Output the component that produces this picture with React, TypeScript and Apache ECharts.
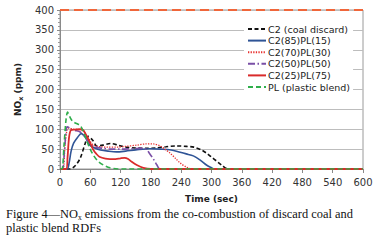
import React, { useEffect, useRef } from "react";
import * as echarts from "echarts";

const xTicks = [0, 60, 120, 180, 240, 300, 360, 420, 480, 540, 600];

const coalT = [0, 15, 20, 30, 40, 50, 56, 65, 73, 85, 100, 115, 130, 150, 170, 190, 210, 230, 250, 265, 280, 290, 300, 310, 320, 333, 600];
const coalV = [0, 0, 0, 8, 27, 65, 82, 72, 58, 60, 64, 60, 55, 53, 52, 53, 56, 58, 57, 55, 48, 40, 30, 20, 10, 0, 0];

const pl15T = [0, 14, 18, 22, 27, 35, 42, 50, 59, 70, 80, 95, 112, 130, 150, 178, 200, 220, 238, 250, 264, 277, 290, 300, 305, 600];
const pl15V = [0, 0, 15, 45, 65, 80, 89, 80, 60, 52, 48, 45, 43, 45, 48, 51, 50, 48, 42, 38, 33, 23, 10, 3, 0, 0];

const pl30T = [0, 6, 10, 14, 18, 27, 40, 46, 55, 66, 80, 95, 112, 130, 152, 170, 185, 198, 210, 218, 230, 238, 250, 262, 600];
const pl30V = [0, 0, 60, 98, 103, 100, 99, 97, 80, 60, 56, 55, 55, 57, 60, 63, 63, 58, 48, 40, 25, 15, 5, 0, 0];

const pl50T = [0, 5, 9, 14, 18, 21, 30, 40, 50, 60, 70, 85, 100, 120, 140, 160, 170, 178, 185, 192, 198, 600];
const pl50V = [0, 0, 50, 106, 104, 100, 97, 93, 80, 62, 55, 52, 50, 50, 51, 52, 50, 38, 25, 10, 0, 0];

const pl75T = [0, 12, 15, 18, 22, 30, 40, 46, 53, 60, 66, 72, 79, 90, 99, 110, 120, 128, 135, 142, 152, 165, 180, 600];
const pl75V = [0, 0, 30, 80, 98, 99, 100, 98, 82, 65, 48, 38, 30, 26, 25, 25, 27, 28, 25, 18, 10, 3, 0, 0];

const plT = [0, 4, 8, 12, 15, 18, 22, 27, 35, 40, 46, 52, 58, 66, 75, 86, 99, 115, 130, 600];
const plV = [0, 0, 60, 125, 143, 135, 125, 118, 113, 110, 95, 75, 55, 35, 20, 10, 3, 0, 0, 0];

const topLineT = [0, 600];
const topLineV = [400, 400];

const names = [
  "C2 (coal discard)",
  "C2(85)PL(15)",
  "C2(70)PL(30)",
  "C2(50)PL(50)",
  "C2(25)PL(75)",
  "PL (plastic blend)",
];

const zip = (t: number[], v: number[]) => t.map((x, i) => [x, v[i]]);

export default function App() {
  const ref = useRef<HTMLDivElement>(null);
  useEffect(() => {
    if (!ref.current) return;
    const chart = echarts.init(ref.current, null, { renderer: "svg" });
    const mk = (name: string, t: number[], v: number[], color: string, width: number, type: any) => ({
      type: "line",
      name,
      symbol: "none",
      smooth: 0.3,
      z: 3,
      data: zip(t, v),
      itemStyle: { color, opacity: 0 },
      lineStyle: { color, width, type },
    });
    chart.setOption({
      animation: false,
      textStyle: { fontFamily: "DejaVu Sans" },
      grid: {
        left: 60,
        right: 18,
        top: 10,
        bottom: 73,
        show: true,
        borderColor: "#9a9a9a",
        borderWidth: 1,
      },
      legend: {
        data: names,
        orient: "vertical",
        left: 244,
        top: 23,
        itemWidth: 18,
        itemHeight: 8,
        itemGap: 1.6,
        padding: [1, 3, 1, 3],
        backgroundColor: "#ffffff",
        itemStyle: { opacity: 0 },
        textStyle: { fontSize: 9.5, color: "#222", fontFamily: "DejaVu Sans", padding: [0, 0, 0, -3] },
      },
      xAxis: {
        type: "value",
        min: 0,
        max: 600,
        interval: 60,
        name: "Time (sec)",
        nameLocation: "middle",
        nameGap: 25,
        nameTextStyle: { fontSize: 9, fontWeight: "bold", color: "#222", fontFamily: "DejaVu Sans" },
        axisLine: { lineStyle: { color: "#8a8a8a" } },
        axisTick: { show: true, length: 4, lineStyle: { color: "#8a8a8a" } },
        axisLabel: {
          fontSize: 10,
          color: "#333",
          margin: 8,
          formatter: (v: number) => (xTicks.includes(v) ? String(v) : ""),
        },
        splitLine: { show: false },
      },
      yAxis: {
        type: "value",
        min: 0,
        max: 400,
        interval: 50,
        name: "{a|NO}{s|x}{a| (ppm)}",
        nameLocation: "middle",
        nameGap: 33,
        nameRotate: 90,
        nameTextStyle: {
          rich: {
            a: { fontSize: 9, fontWeight: "bold", color: "#222", fontFamily: "DejaVu Sans" },
            s: { fontSize: 6.5, fontWeight: "bold", color: "#222", fontFamily: "DejaVu Sans", padding: [5, 0, 0, 0] },
          },
        },
        axisLine: { show: true, lineStyle: { color: "#8a8a8a" } },
        axisTick: { show: true, length: 3, lineStyle: { color: "#8a8a8a" } },
        minorTick: { show: true, splitNumber: 5, length: 2, lineStyle: { color: "#9a9a9a" } },
        axisLabel: { fontSize: 10, color: "#333", margin: 6 },
        splitLine: { lineStyle: { color: "#bdbdbd", width: 1 } },
      },
      graphic: [
        {
          type: "text",
          left: 6,
          top: 208,
          style: {
            text: "{a|Figure 4—NO}{s|x}{a| emissions from the co-combustion of discard coal and}\n{a|plastic blend RDFs}",
            rich: {
              a: { fontSize: 12.4, fontFamily: "Liberation Serif", fill: "#111", lineHeight: 14 },
              s: { fontSize: 7.5, fontFamily: "Liberation Serif", fill: "#111", padding: [6, 0, 0, 0] },
            },
          },
        },
      ],
      series: [
        {
          name: "limit",
          type: "line",
          symbol: "none",
          data: zip(topLineT, topLineV),
          lineStyle: { color: "#f0663a", width: 2.2, type: [9, 5] },
          z: 4,
          silent: true,
        },
        mk(names[0], coalT, coalV, "#111111", 1.6, [4, 2.5]),
        mk(names[1], pl15T, pl15V, "#2f5496", 1.6, "solid"),
        mk(names[2], pl30T, pl30V, "#e8312f", 1.3, [1.3, 1.3]),
        mk(names[3], pl50T, pl50V, "#7a4fa6", 1.6, [7, 2.5, 1.5, 2.5]),
        mk(names[4], pl75T, pl75V, "#d92b2b", 1.8, "solid"),
        mk(names[5], plT, plV, "#2fae4b", 1.6, [5, 3]),
      ],
    });
    return () => chart.dispose();
  }, []);
  return (
    <div
      ref={ref}
      style={{ position: "fixed", left: 0, top: 0, width: 381, height: 242, background: "#fff" }}
    />
  );
}
